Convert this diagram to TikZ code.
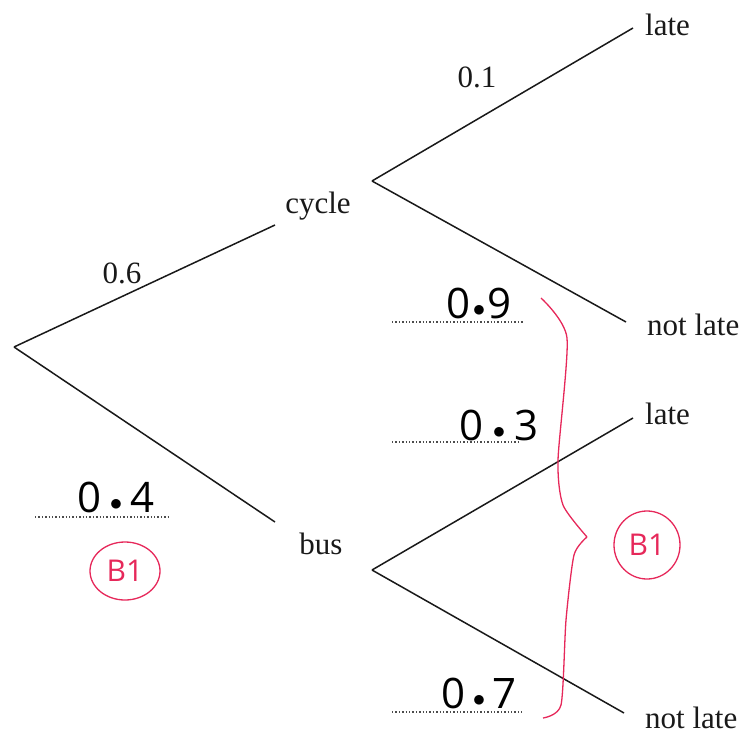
\documentclass[tikz,border=0pt]{standalone}
\usepackage{fontspec}
\setmainfont{Liberation Serif}
\newfontfamily\handfont{Open Sans}
\definecolor{pen}{RGB}{230,40,90}
\newcommand{\hd}[3]{#1\kern#3pt\raisebox{2pt}{$\bullet$}\kern#3pt#2}
\begin{document}
\begin{tikzpicture}[x=1pt,y=-1pt,
  branch/.style={draw=black!90,line width=1.5pt},
  lbl/.style={font=\fontsize{31}{34}\selectfont,text=black!90,inner sep=0pt,anchor=base},
  hand/.style={font=\handfont\fontsize{42}{44}\selectfont,inner sep=0pt,anchor=base},
  dotline/.style={draw=black!70,line width=1.4pt,dotted},
  redmark/.style={draw=pen,line width=1.3pt},
  bone/.style={font=\handfont\fontsize{30}{32}\selectfont\color{pen},inner sep=0pt}]
\useasboundingbox (0,0) rectangle (744,728);
% tree points
\coordinate (root) at (14,347);
\coordinate (cycE) at (275,225);
\coordinate (busE) at (275,522);
\coordinate (cycS) at (372,181);
\coordinate (busS) at (372,570);
\coordinate (l1) at (633,28);
\coordinate (n1) at (626,322);
\coordinate (l2) at (633,418);
\coordinate (n2) at (624,713);
\draw[branch] (root) -- (cycE);
\draw[branch] (root) -- (busE);
\draw[branch] (cycS) -- (l1);
\draw[branch] (cycS) -- (n1);
\draw[branch] (busS) -- (l2);
\draw[branch] (busS) -- (n2);
% labels
\node[lbl] (cyc) at (318,213) {cycle};
\node[lbl] (bus) at (321,554) {bus};
\node[lbl,anchor=base west] (late1) at (645,35) {late};
\node[lbl,anchor=base west] (nl1) at (647,335) {not late};
\node[lbl,anchor=base west] (late2) at (645,424) {late};
\node[lbl,anchor=base west] (nl2) at (645,728) {not late};
\node[lbl] (p1) at (477,87) {0.1};
\node[lbl] (p6) at (122,283) {0.6};
% handwritten answers
\coordinate (d4a) at (35,517); \coordinate (d4b) at (168,517);
\coordinate (d9a) at (392,322); \coordinate (d9b) at (523,322);
\coordinate (d3a) at (392,442); \coordinate (d3b) at (520,442);
\coordinate (d7a) at (392,712); \coordinate (d7b) at (522,712);
\draw[dotline] (d4a) -- (d4b);
\draw[dotline] (d9a) -- (d9b);
\draw[dotline] (d3a) -- (d3b);
\draw[dotline] (d7a) -- (d7b);
\node[hand] (a4) at (116,512) {\hd{0}{4}{8}};
\node[hand] (a9) at (479,318) {\hd{0}{9}{2}};
\node[hand] (a3) at (499,440) {\hd{0}{3}{9}};
\node[hand] (a7) at (479,708) {\hd{0}{7}{7}};
% B1 marks
\node[bone] (b1a) at (125,571) {B1};
\draw[redmark] (b1a) ellipse [x radius=35, y radius=29];
\node[bone] (b1b) at (647,545) {B1};
\draw[redmark] (b1b) ellipse [x radius=33, y radius=34];
% brace
\coordinate (br0) at (541,298);
\coordinate (br1) at (567,338);
\coordinate (br2) at (558,460);
\coordinate (br3) at (563,505);
\coordinate (br4) at (587,537);
\coordinate (br5) at (574,555);
\coordinate (br6) at (566,620);
\coordinate (br7) at (561,705);
\coordinate (br8) at (543,718);
\draw[redmark] plot[smooth,tension=0.4] coordinates {(br0) (br1) (br2) (br3) (br4)}
  plot[smooth,tension=0.4] coordinates {(br4) (br5) (br6) (br7) (br8)};
\end{tikzpicture}
\end{document}
